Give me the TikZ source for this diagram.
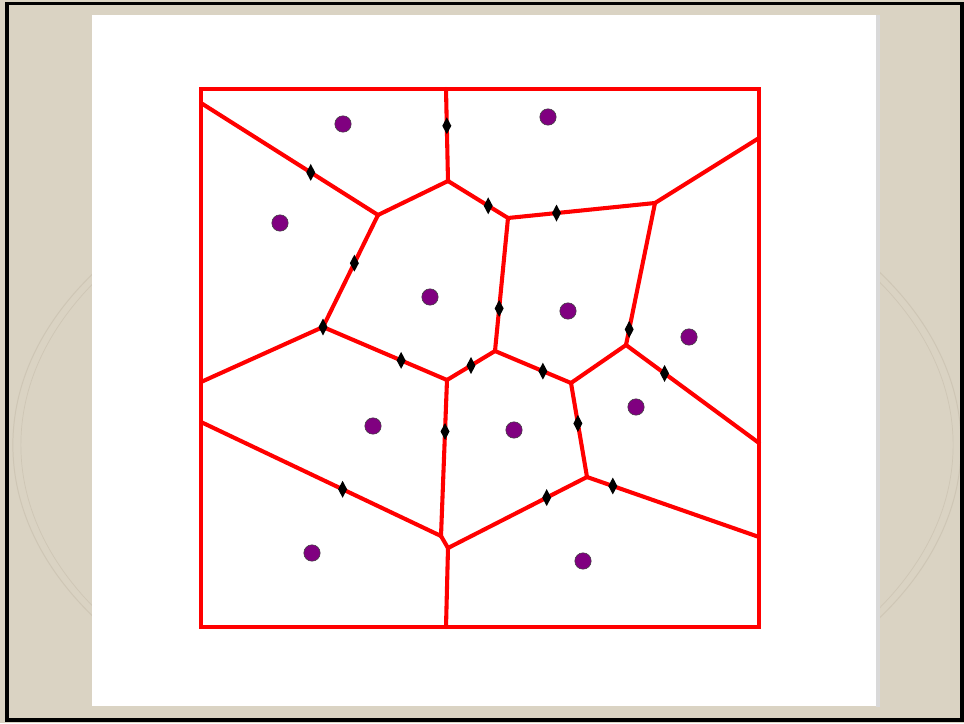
\documentclass[tikz,border=0pt]{standalone}
\usetikzlibrary{shapes.geometric}
\definecolor{slidetan}{RGB}{218,211,195}
\definecolor{maptan}{RGB}{206,198,181}
\definecolor{sitepurple}{RGB}{128,0,128}
\definecolor{cellred}{RGB}{255,0,0}

\begin{document}
\begin{tikzpicture}[x=0.025cm,y=-0.025cm,
  site/.style={circle,draw=black!75,fill=sitepurple,line width=0.4pt,
    minimum size=0.41cm,inner sep=0pt},
  bisect/.style={diamond,fill=black,minimum width=0.23cm,minimum height=0.43cm,
    inner sep=0pt},
  cell/.style={draw=cellred,line width=2.9pt,line join=round,line cap=round},
  boxline/.style={draw=cellred,line width=3.3pt}]
\useasboundingbox (0,0) rectangle (964,723);
\fill[slidetan] (0,0) rectangle (964,723);
\begin{scope}
\clip (0,150) rectangle (964,705);
\draw[maptan,line width=0.7pt] (487,445) ellipse[x radius=11.85cm,y radius=7.7cm];
\draw[maptan,line width=0.5pt] (487,445) ellipse[x radius=11.65cm,y radius=7.55cm];
\end{scope}
\fill[gray!30] (876,15) rectangle (880,707);
\fill[white] (92,15) rectangle (876,706);
\draw[line width=2.2pt] (7,3.5) rectangle (962,720);
% voronoi vertices
\coordinate (vA) at (446,89);
\coordinate (vB) at (448,181);
\coordinate (vC) at (378,215);
\coordinate (vD) at (508,218);
\coordinate (vE) at (655,203);
\coordinate (vF) at (626,345);
\coordinate (vG) at (495,351);
\coordinate (vH) at (323,327);
\coordinate (vI) at (447,380);
\coordinate (vJ) at (571,383);
\coordinate (vK) at (587,477);
\coordinate (vM) at (441,536);
\coordinate (vL) at (448,548);
\coordinate (wTL) at (201,103);
\coordinate (wML) at (201,382);
\coordinate (wBL) at (201,422);
\coordinate (wTR) at (759,138);
\coordinate (wMR) at (759,443);
\coordinate (wBR) at (759,537);
\coordinate (wBot) at (446,627);
% cell edges
\draw[cell] (vA)--(vB);
\draw[cell] (wTL)--(vC);
\draw[cell] (vB)--(vC);
\draw[cell] (vB)--(vD);
\draw[cell] (vD)--(vE);
\draw[cell] (vE)--(wTR);
\draw[cell] (vE)--(vF);
\draw[cell] (vD)--(vG);
\draw[cell] (vC)--(vH);
\draw[cell] (vH)--(wML);
\draw[cell] (vH)--(vI);
\draw[cell] (vI)--(vG);
\draw[cell] (vG)--(vJ);
\draw[cell] (vJ)--(vF);
\draw[cell] (vF)--(wMR);
\draw[cell] (vJ)--(vK);
\draw[cell] (vK)--(wBR);
\draw[cell] (vL)--(vK);
\draw[cell] (vI)--(vM);
\draw[cell] (wBL)--(vM);
\draw[cell] (vM)--(vL);
\draw[cell] (vL)--(wBot);
\draw[boxline] (201,89) rectangle (759,627);
% bisector marks
\path (vA)--node[bisect,pos=0.40] (m1) {} (vB);
\path (wTL)--node[bisect,pos=0.62] (m2) {} (vC);
\path (vB)--node[bisect,pos=0.67] (m3) {} (vD);
\path (vD)--node[bisect,pos=0.33] (m4) {} (vE);
\path (vE)--node[bisect,pos=0.89] (m5) {} (vF);
\path (vD)--node[bisect,pos=0.68] (m6) {} (vG);
\path (vC)--node[bisect,pos=0.43] (m7) {} (vH);
\node[bisect] (m8) at (vH) {};
\path (vH)--node[bisect,pos=0.63] (m9) {} (vI);
\path (vI)--node[bisect,pos=0.50] (m10) {} (vG);
\path (vG)--node[bisect,pos=0.63] (m11) {} (vJ);
\path (vF)--node[bisect,pos=0.29] (m12) {} (wMR);
\path (vJ)--node[bisect,pos=0.43] (m13) {} (vK);
\path (vK)--node[bisect,pos=0.15] (m14) {} (wBR);
\path (vL)--node[bisect,pos=0.71] (m15) {} (vK);
\path (vI)--node[bisect,pos=0.33] (m16) {} (vM);
\path (wBL)--node[bisect,pos=0.59] (m17) {} (vM);
% sites
\node[site] (s1) at (343,124) {};
\node[site] (s2) at (548,117) {};
\node[site] (s3) at (280,223) {};
\node[site] (s4) at (430,297) {};
\node[site] (s5) at (568,311) {};
\node[site] (s6) at (689,337) {};
\node[site] (s7) at (636,407) {};
\node[site] (s8) at (373,426) {};
\node[site] (s9) at (514,430) {};
\node[site] (s10) at (312,553) {};
\node[site] (s11) at (583,561) {};
\end{tikzpicture}
\end{document}
